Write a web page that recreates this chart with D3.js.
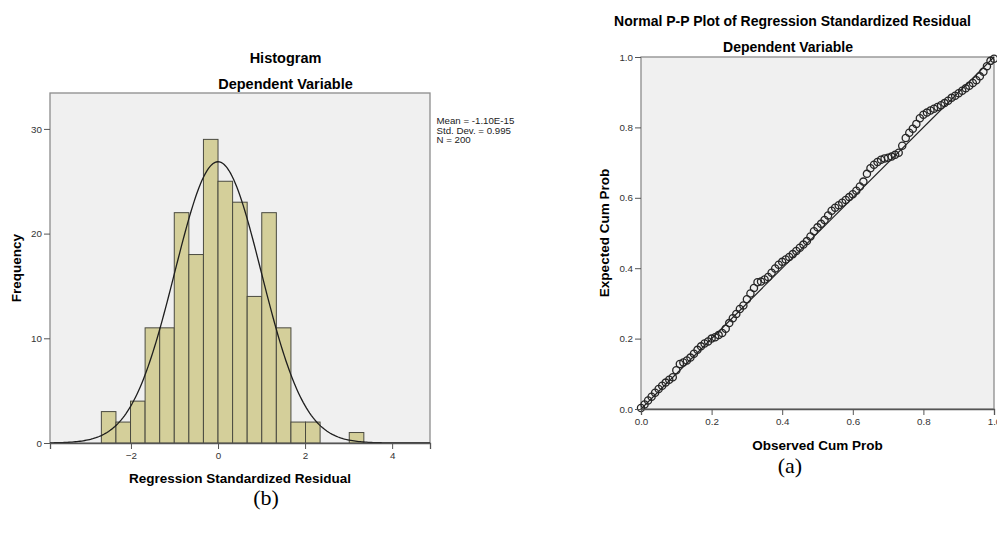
<!DOCTYPE html>
<html>
<head>
<meta charset="utf-8">
<script src="https://cdn.jsdelivr.net/npm/d3@7"></script>
<style>
    body { margin: 0; background: #fff; }
    svg { display: block; font-family: 'Liberation Sans', Arial, sans-serif; }
    .tick text { font-size: 9.8px; fill: #333; }
    .tick line { stroke: #555; }
</style>
</head>
<body>
<svg id="chart" width="997" height="534"></svg>
<script>
// histogram of the standardized residuals
const histEdges = [-2.68, -2.345, -2.01, -1.675, -1.34, -1.005, -0.67, -0.335, 0, 0.335,
                   0.67, 1.005, 1.34, 1.675, 2.01, 2.345, 2.68, 3.015, 3.35];
const histCounts = [3, 2, 4, 11, 11, 22, 18, 29, 25, 23, 14, 22, 11, 2, 2, 0, 0, 1];
const histXTicks = [-2, 0, 2, 4];
const histYTicks = [0, 10, 20, 30];
const legendLines = ['Mean = -1.10E-15', 'Std. Dev. = 0.995', 'N = 200'];
const residMean = -1.10e-15, residSd = 0.995, residN = 200;

// P-P plot points
const ppObserved = [0.00, 0.01, 0.02, 0.03, 0.04, 0.05, 0.06, 0.07, 0.08, 0.09,
                    0.10, 0.11, 0.12, 0.13, 0.14, 0.15, 0.16, 0.17, 0.18, 0.19,
                    0.20, 0.21, 0.22, 0.23, 0.24, 0.25, 0.26, 0.27, 0.28, 0.29,
                    0.30, 0.31, 0.32, 0.33, 0.34, 0.35, 0.36, 0.37, 0.38, 0.39,
                    0.40, 0.41, 0.42, 0.43, 0.44, 0.45, 0.46, 0.47, 0.48, 0.49,
                    0.50, 0.51, 0.52, 0.53, 0.54, 0.55, 0.56, 0.57, 0.58, 0.59,
                    0.60, 0.61, 0.62, 0.63, 0.64, 0.65, 0.66, 0.67, 0.68, 0.69,
                    0.70, 0.71, 0.72, 0.73, 0.74, 0.75, 0.76, 0.77, 0.78, 0.79,
                    0.80, 0.81, 0.82, 0.83, 0.84, 0.85, 0.86, 0.87, 0.88, 0.89,
                    0.90, 0.91, 0.92, 0.93, 0.94, 0.95, 0.96, 0.97, 0.98, 0.99, 1.00];
const ppExpected = [0.003, 0.013, 0.024, 0.035, 0.046, 0.057, 0.066, 0.075, 0.083, 0.090,
                    0.110, 0.128, 0.132, 0.138, 0.146, 0.157, 0.168, 0.178, 0.186, 0.192,
                    0.200, 0.204, 0.210, 0.216, 0.228, 0.244, 0.258, 0.270, 0.284, 0.294,
                    0.312, 0.328, 0.344, 0.360, 0.362, 0.368, 0.375, 0.387, 0.399, 0.410,
                    0.418, 0.425, 0.432, 0.440, 0.449, 0.458, 0.467, 0.477, 0.490, 0.505,
                    0.516, 0.526, 0.537, 0.550, 0.563, 0.572, 0.579, 0.586, 0.594, 0.602,
                    0.610, 0.620, 0.632, 0.646, 0.668, 0.684, 0.694, 0.702, 0.708, 0.712,
                    0.714, 0.717, 0.722, 0.728, 0.748, 0.770, 0.785, 0.796, 0.810, 0.826,
                    0.836, 0.842, 0.848, 0.853, 0.858, 0.863, 0.869, 0.876, 0.884, 0.890,
                    0.897, 0.904, 0.911, 0.918, 0.926, 0.934, 0.945, 0.958, 0.974, 0.989, 0.995];
const ppTicks = [0, 0.2, 0.4, 0.6, 0.8, 1.0];

let svg = d3.select('#chart');

// ---------- Histogram ----------
let hx = d3.scaleLinear().domain([-3.86, 4.87]).range([50, 430]),
    hy = d3.scaleLinear().domain([0, 33.43]).range([443, 93]);

let hist = svg.append('g').attr('class', 'histogram');

hist.append('rect')
    .attr('x', hx.range()[0]).attr('y', hy.range()[1])
    .attr('width', hx.range()[1] - hx.range()[0])
    .attr('height', hy.range()[0] - hy.range()[1])
    .attr('fill', '#f0f0f0')
    .attr('stroke', '#8c8c8c')
    .attr('stroke-width', 1.3);

let bins = histCounts.map(function(c, i) {
    return { x0: histEdges[i], x1: histEdges[i + 1], count: c };
}).filter(function(d) { return d.count > 0; });

hist.selectAll('rect.bar')
    .data(bins)
    .enter().append('rect')
    .attr('class', 'bar')
    .attr('x', function(d) { return hx(d.x0); })
    .attr('y', function(d) { return hy(d.count); })
    .attr('width', function(d) { return hx(d.x1) - hx(d.x0); })
    .attr('height', function(d) { return hy(0) - hy(d.count); })
    .attr('fill', '#d4cf9a')
    .attr('stroke', '#4a4a40')
    .attr('stroke-width', 1);

// fitted normal curve
let binWidth = histEdges[1] - histEdges[0];
let curvePts = d3.range(0, 241).map(function(i) {
    let v = hx.domain()[0] + i * (hx.domain()[1] - hx.domain()[0]) / 240,
        z = (v - residMean) / residSd;
    return { v: v, f: residN * binWidth * Math.exp(-z * z / 2) / (residSd * Math.sqrt(2 * Math.PI)) };
});

hist.append('path')
    .datum(curvePts)
    .attr('fill', 'none')
    .attr('stroke', '#1e1e1e')
    .attr('stroke-width', 1.3)
    .attr('d', d3.line()
        .x(function(d) { return hx(d.v); })
        .y(function(d) { return hy(d.f); }));

hist.append('g')
    .attr('transform', 'translate(0,443)')
    .call(d3.axisBottom(hx).tickValues(histXTicks).tickSize(6).tickPadding(3))
    .call(function(g) { g.select('.domain').attr('stroke', '#555').attr('stroke-width', 1.3); });

hist.append('g')
    .attr('transform', 'translate(50,0)')
    .call(d3.axisLeft(hy).tickValues(histYTicks).tickSize(6).tickPadding(2))
    .call(function(g) { g.select('.domain').remove(); });

hist.append('text')
    .attr('x', 285.5).attr('y', 62.5)
    .attr('text-anchor', 'middle')
    .style('font-size', '14.5px').style('font-weight', 'bold')
    .text('Histogram');

hist.append('text')
    .attr('x', 285.5).attr('y', 89.3)
    .attr('text-anchor', 'middle')
    .style('font-size', '14.5px').style('font-weight', 'bold')
    .text('Dependent Variable');

hist.append('text')
    .attr('x', 240).attr('y', 483)
    .attr('text-anchor', 'middle')
    .style('font-size', '13.5px').style('font-weight', 'bold')
    .text('Regression Standardized Residual');

hist.append('text')
    .attr('transform', 'translate(21,268) rotate(-90)')
    .attr('text-anchor', 'middle')
    .style('font-size', '13.5px').style('font-weight', 'bold')
    .text('Frequency');

hist.append('text')
    .attr('x', 436.5).attr('y', 124)
    .style('font-size', '9.7px').style('fill', '#222')
    .selectAll('tspan')
    .data(legendLines).enter()
    .append('tspan')
    .attr('x', 436.5)
    .attr('dy', function(d, i) { return i > 0 ? 9.6 : null; })
    .text(function(d) { return d; });

// ---------- P-P plot ----------
let px = d3.scaleLinear().domain([0, 1]).range([641, 994]),
    py = d3.scaleLinear().domain([0, 1]).range([409, 57]);

let pp = svg.append('g').attr('class', 'pp-plot');

pp.append('rect')
    .attr('x', 641).attr('y', 57)
    .attr('width', px(1) - px(0))
    .attr('height', py(0) - py(1))
    .attr('fill', '#f0f0f0')
    .attr('stroke', '#8c8c8c')
    .attr('stroke-width', 1.3);

pp.append('line')
    .attr('x1', px(0)).attr('y1', py(0))
    .attr('x2', px(1)).attr('y2', py(1))
    .attr('stroke', '#222')
    .attr('stroke-width', 1.1);

pp.selectAll('circle')
    .data(ppObserved.map(function(o, i) { return { obs: o, exp: ppExpected[i] }; }))
    .enter().append('circle')
    .attr('cx', function(d) { return px(d.obs); })
    .attr('cy', function(d) { return py(d.exp); })
    .attr('r', 3.6)
    .attr('fill', 'none')
    .attr('stroke', '#262626')
    .attr('stroke-width', 1.3);

pp.append('g')
    .attr('transform', 'translate(0,409)')
    .call(d3.axisBottom(px).tickValues(ppTicks).tickFormat(d3.format('.1f')).tickSize(6).tickPadding(3))
    .call(function(g) { g.select('.domain').attr('stroke', '#555').attr('stroke-width', 1.3); });

pp.append('g')
    .attr('transform', 'translate(641,0)')
    .call(d3.axisLeft(py).tickValues(ppTicks).tickFormat(d3.format('.1f')).tickSize(6).tickPadding(2))
    .call(function(g) { g.select('.domain').remove(); });

pp.append('text')
    .attr('x', 792.5).attr('y', 26)
    .attr('text-anchor', 'middle')
    .style('font-size', '14px').style('font-weight', 'bold')
    .text('Normal P-P Plot of Regression Standardized Residual');

pp.append('text')
    .attr('x', 788).attr('y', 52.3)
    .attr('text-anchor', 'middle')
    .style('font-size', '14px').style('font-weight', 'bold')
    .text('Dependent Variable');

pp.append('text')
    .attr('x', 817.5).attr('y', 450)
    .attr('text-anchor', 'middle')
    .style('font-size', '13.5px').style('font-weight', 'bold')
    .text('Observed Cum Prob');

pp.append('text')
    .attr('transform', 'translate(609,233) rotate(-90)')
    .attr('text-anchor', 'middle')
    .style('font-size', '13.5px').style('font-weight', 'bold')
    .text('Expected Cum Prob');

// panel captions
svg.append('text')
    .attr('x', 266).attr('y', 505)
    .attr('text-anchor', 'middle')
    .style('font-family', "'Liberation Serif', 'Times New Roman', serif")
    .style('font-size', '22px')
    .text('(b)');

svg.append('text')
    .attr('x', 790).attr('y', 473)
    .attr('text-anchor', 'middle')
    .style('font-family', "'Liberation Serif', 'Times New Roman', serif")
    .style('font-size', '22px')
    .text('(a)');
</script>
</body>
</html>
